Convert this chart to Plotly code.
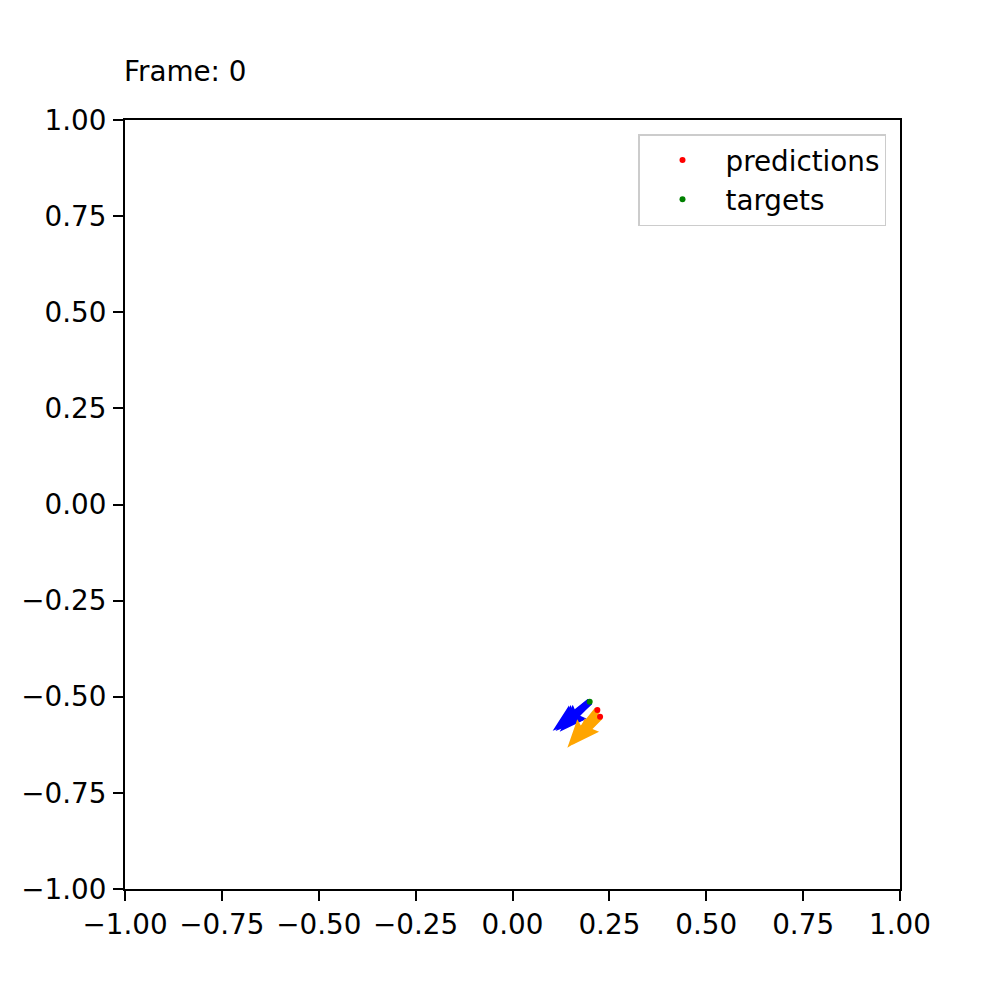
import plotly.graph_objects as go

# ─── data ────────────────────────────────────────────────────────────────
frame_label = "Frame: 0"

pred_x = [0.219, 0.226]
pred_y = [-0.5345, -0.552]

target_x = [0.1992]
target_y = [-0.5129]

# velocity arrows drawn from the targets (blue) and from the predictions (orange)
blue_ox = [0.1992, 0.1992, 0.1992]
blue_oy = [-0.5129, -0.5129, -0.5129]
blue_u = [-0.0955, -0.0880, -0.0774]
blue_v = [-0.0754, -0.0760, -0.0780]

orange_ox = [0.219, 0.226]
orange_oy = [-0.5345, -0.552]
orange_u = [-0.0774, -0.0723]
orange_v = [-0.0980, -0.0736]

tick_vals = [-1.0, -0.75, -0.5, -0.25, 0.0, 0.25, 0.5, 0.75, 1.0]
tick_text = ["\u22121.00", "\u22120.75", "\u22120.50", "\u22120.25", "0.00",
             "0.25", "0.50", "0.75", "1.00"]

# ─── layout constants ────────────────────────────────────────────────────
# the page body has an 8px margin, so the figure starts at (8, 8)
W, H = 1000, 1000
M = dict(l=117, r=108, t=112, b=119)
PW = W - M["l"] - M["r"]
PH = H - M["t"] - M["b"]
SX = PW / 2.0   # px per data unit
SY = PH / 2.0
FONT = dict(family="DejaVu Sans", size=27.8, color="black")

SHAFT = 6.6   # quiver shaft width in px


def arrow_polygon(x0, y0, u, v, w=SHAFT):
    """quiver-like arrow outline (matplotlib default head proportions)."""
    dx, dy = u * SX, v * SY
    L = (dx * dx + dy * dy) ** 0.5
    cx, cy = dx / L, dy / L
    px, py = -cy, cx
    hl, hal, hw = 4.3 * w, 3.9 * w, 1.5 * w
    pts = [(0, -w / 2), (L - hal, -w / 2), (L - hl, -hw), (L, 0),
           (L - hl, hw), (L - hal, w / 2), (0, w / 2), (0, -w / 2)]
    xs, ys = [], []
    for a, b in pts:
        xs.append(x0 + (a * cx + b * px) / SX)
        ys.append(y0 + (a * cy + b * py) / SY)
    return xs, ys


fig = go.Figure()

for ox, oy, u, v in zip(blue_ox, blue_oy, blue_u, blue_v):
    xs, ys = arrow_polygon(ox, oy, u, v)
    fig.add_trace(go.Scatter(x=xs, y=ys, mode="lines", fill="toself",
                             fillcolor="#0000ff", line=dict(width=0, color="#0000ff"),
                             showlegend=False, hoverinfo="skip"))

for ox, oy, u, v in zip(orange_ox, orange_oy, orange_u, orange_v):
    xs, ys = arrow_polygon(ox, oy, u, v)
    fig.add_trace(go.Scatter(x=xs, y=ys, mode="lines", fill="toself",
                             fillcolor="#ffa500", line=dict(width=0, color="#ffa500"),
                             showlegend=False, hoverinfo="skip"))

fig.add_trace(go.Scatter(x=pred_x, y=pred_y, mode="markers", name="predictions",
                         marker=dict(color="#ff0000", size=6), legendgroup="p"))
fig.add_trace(go.Scatter(x=target_x, y=target_y, mode="markers", name="targets",
                         marker=dict(color="#008000", size=6), legendgroup="t"))

axis = dict(
    range=[-1, 1],
    tickvals=tick_vals,
    ticktext=tick_text,
    showgrid=False,
    zeroline=False,
    showline=True,
    mirror=True,
    linecolor="black",
    linewidth=2,
    ticks="outside",
    ticklen=10,
    tickwidth=2,
    tickcolor="black",
    tickfont=FONT,
)

fig.update_layout(
    width=W, height=H,
    margin=M,
    plot_bgcolor="white",
    paper_bgcolor="white",
    font=FONT,
    xaxis=dict(axis, ticklabelstandoff=0),
    yaxis=dict(axis, ticklabelstandoff=1),
    legend=dict(
        x=(886 - 8 - M["l"]) / PW,
        y=(H - M["b"] - (134 - 8)) / PH,
        xanchor="right", yanchor="top",
        bgcolor="white",
        bordercolor="#cccccc",
        borderwidth=1.5,
        font=FONT,
        itemwidth=76,
        tracegroupgap=9,
        traceorder="normal",
    ),
    annotations=[dict(
        text=frame_label, xref="paper", yref="paper",
        x=-3 / PW, y=1 + 48 / PH,
        xanchor="left", yanchor="middle", showarrow=False, font=FONT,
    )],
)

fig.write_html("out.html")
